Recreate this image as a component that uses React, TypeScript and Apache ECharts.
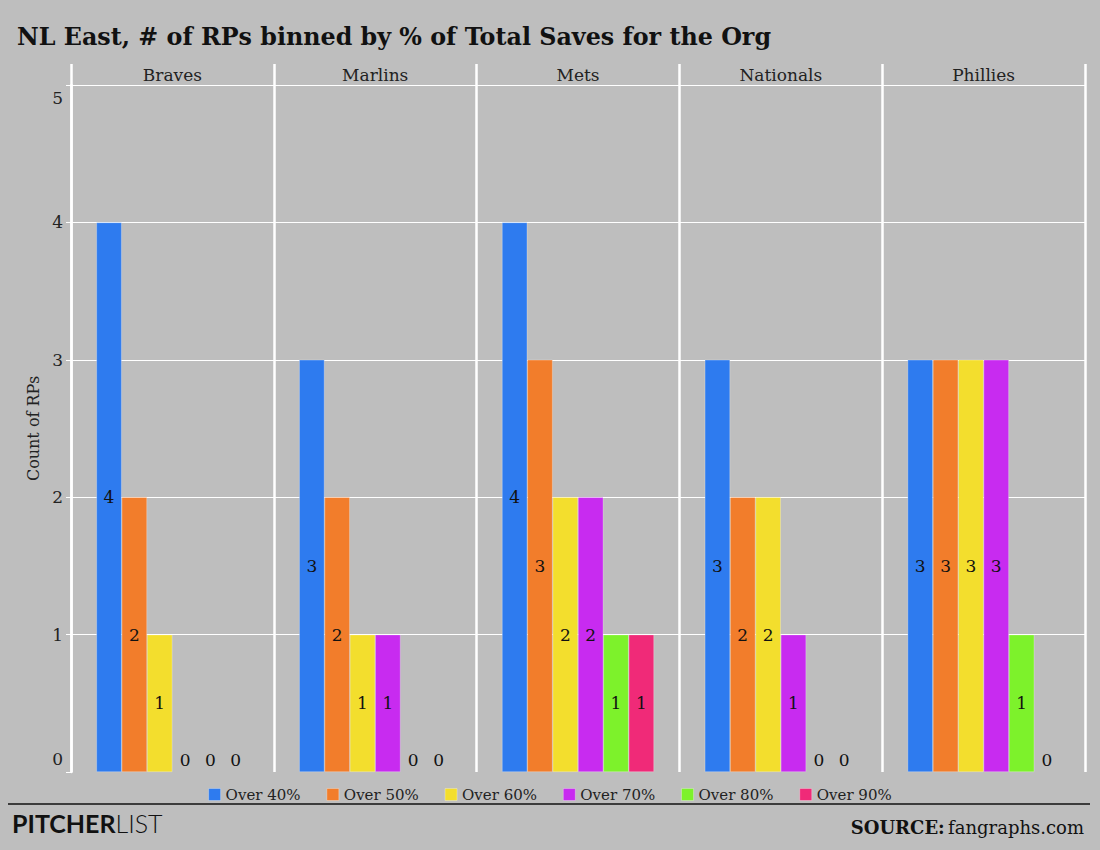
import React, { useEffect, useRef } from "react";
import * as echarts from "echarts";

const teams = ["Braves", "Marlins", "Mets", "Nationals", "Phillies"];
const bins = ["Over 40%", "Over 50%", "Over 60%", "Over 70%", "Over 80%", "Over 90%"];
const over40 = [4, 3, 4, 3, 3];
const over50 = [2, 2, 3, 2, 3];
const over60 = [1, 1, 2, 2, 3];
const over70 = [0, 1, 2, 1, 3];
const over80 = [0, 0, 1, 0, 1];
const over90 = [0, 0, 1, 0, 0];
const binValues = [over40, over50, over60, over70, over80, over90];
const binColors = ["#2e7bef", "#f27d2b", "#f3de2d", "#c82bf0", "#7df22b", "#f02a78"];
const yTicks = [0, 1, 2, 3, 4, 5];

const SERIF = "'DejaVu Serif', serif";

export default function App() {
  const ref = useRef<HTMLDivElement>(null);
  useEffect(() => {
    document.body.style.margin = "0";
    const chart = echarts.init(ref.current!, null, { renderer: "svg" });
    const series = bins.map((name, i) => ({
      name,
      type: "bar",
      xAxisIndex: 0,
      yAxisIndex: 0,
      barGap: "0%",
      barCategoryGap: "25%",
      itemStyle: { color: binColors[i], borderColor: "rgba(255,255,255,0.45)", borderWidth: 0.6 },
      label: {
        show: true,
        position: "inside",
        color: "#111",
        fontSize: 17,
        fontFamily: SERIF,
        formatter: (p: any) => String(p.value),
      },
      data: binValues[i].map((v) =>
        v === 0
          ? { value: v, itemStyle: { borderWidth: 0 }, label: { position: "top", distance: 4 } }
          : { value: v }
      ),
    }));
    chart.setOption({
      animation: false,
      backgroundColor: "#bebebe",
      textStyle: { fontFamily: SERIF },
      title: {
        text: "NL East, # of RPs binned by % of Total Saves for the Org",
        left: 12,
        top: 20,
        textStyle: { fontSize: 23.8, fontWeight: "bold", color: "#111", fontFamily: SERIF },
      },
      grid: [
        { left: 71, right: 15, top: 85, bottom: 78, containLabel: false },
        { left: 71, right: 15, top: 64, height: 21, containLabel: false },
      ],
      legend: {
        data: bins,
        left: "center",
        top: 782,
        icon: "rect",
        itemWidth: 12,
        itemHeight: 12,
        itemGap: 26,
        itemStyle: { borderColor: "rgba(255,255,255,0.5)", borderWidth: 0.6 },
        textStyle: { fontSize: 15, color: "#222", fontFamily: SERIF },
      },
      xAxis: [
        {
          type: "category",
          gridIndex: 0,
          position: "top",
          data: teams,
          axisLine: { show: true, onZero: false, lineStyle: { color: "#fff", width: 1 } },
          axisTick: { show: false },
          axisLabel: { margin: 2, fontSize: 17, color: "#222", fontFamily: SERIF },
          splitLine: { show: true, lineStyle: { color: "#fff", width: 2.5 } },
        },
        {
          type: "category",
          gridIndex: 1,
          data: teams,
          axisLine: { show: false, onZero: false },
          axisTick: { show: false },
          axisLabel: { show: false },
          splitLine: { show: true, lineStyle: { color: "#fff", width: 2.5 } },
        },
      ],
      yAxis: [
        {
          type: "value",
          gridIndex: 0,
          min: yTicks[0],
          max: yTicks[yTicks.length - 1],
          interval: 1,
          name: "Count of RPs",
          nameLocation: "middle",
          nameGap: 29,
          nameTextStyle: { fontSize: 16, color: "#222", fontFamily: SERIF },
          axisLine: { show: true, lineStyle: { color: "#fff", width: 2.5 } },
          axisTick: { show: true, length: 5, lineStyle: { color: "#fff", width: 1 } },
          axisLabel: {
            margin: 8,
            fontSize: 17,
            lineHeight: 26,
            color: "#222",
            fontFamily: SERIF,
            verticalAlignMinLabel: "bottom",
            verticalAlignMaxLabel: "top",
          },
          splitLine: {
            show: true,
            lineStyle: { color: ["rgba(0,0,0,0)", "#fff", "#fff", "#fff", "#fff", "#fff"], width: 1 },
          },
        },
        {
          type: "value",
          gridIndex: 1,
          min: 0,
          max: 1,
          axisLine: { show: false },
          axisTick: { show: false },
          axisLabel: { show: false },
          splitLine: { show: false },
        },
      ],
      series,
      graphic: [
        {
          type: "line",
          shape: { x1: 8, y1: 804, x2: 1090, y2: 804 },
          style: { stroke: "#111", lineWidth: 1.5 },
        },
        {
          type: "text",
          x: 12,
          y: 823,
          style: {
            text: "{b|PITCHER}{l|LIST}",
            verticalAlign: "middle",
            rich: {
              b: { fontFamily: "Lato, 'Noto Sans', sans-serif", fontWeight: "bold", fontSize: 25, fill: "#111" },
              l: { fontFamily: "Lato, 'Noto Sans', sans-serif", fontWeight: 300, fontSize: 25, fill: "#111" },
            },
          },
        },
        {
          type: "text",
          x: 1084,
          y: 827,
          style: {
            text: "{b|SOURCE:} {r|fangraphs.com}",
            align: "right",
            verticalAlign: "middle",
            rich: {
              b: { fontFamily: SERIF, fontWeight: "bold", fontSize: 18, fill: "#111" },
              r: { fontFamily: SERIF, fontSize: 18, fill: "#111" },
            },
          },
        },
      ],
    });
    return () => chart.dispose();
  }, []);
  return (
    <div
      ref={ref}
      style={{ position: "fixed", left: 0, top: 0, width: 1100, height: 850 }}
    />
  );
}
